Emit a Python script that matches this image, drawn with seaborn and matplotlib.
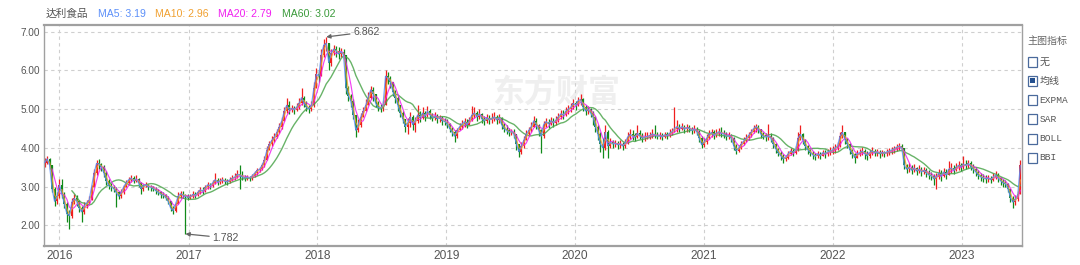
import numpy as np
import pandas as pd
import matplotlib
matplotlib.use("Agg")
import matplotlib.pyplot as plt
import matplotlib.dates as mdates
from matplotlib import font_manager
from matplotlib.patches import Rectangle
import seaborn as sns

# ---------------- data (weekly candles) ----------------
stock_name = "达利食品"
start_date = "2015-11-20"
first_open = 3.55

close_2015 = [3.62, 3.72, 3.55, 2.95, 2.62, 2.75]
high_2015 = [3.75, 3.80, 3.75, 3.55, 3.00, 2.85]
low_2015 = [3.50, 3.58, 3.45, 2.85, 2.50, 2.55]

close_2016 = [3.05, 2.80, 2.55, 2.30, 2.25, 2.60, 2.70, 2.62, 2.45, 2.35,
              2.50, 2.58, 2.65, 3.00, 3.35, 3.60, 3.58, 3.50, 3.35, 3.15,
              3.02, 3.00, 2.95, 2.85, 2.75, 2.85, 3.00, 3.10, 3.18, 3.22,
              3.15, 3.20, 3.10, 2.95, 3.02, 3.05, 3.00, 2.98, 2.95, 2.90,
              2.85, 2.80, 2.78, 2.72, 2.62, 2.45, 2.38, 2.55, 2.75, 2.82,
              2.78, 2.75, 2.72]
high_2016 = [3.20, 3.20, 2.85, 2.60, 2.40, 2.70, 2.80, 2.78, 2.65, 2.50,
             2.60, 2.65, 2.75, 3.05, 3.45, 3.70, 3.72, 3.62, 3.55, 3.40,
             3.20, 3.10, 3.05, 3.00, 2.90, 2.95, 3.05, 3.18, 3.25, 3.30,
             3.28, 3.30, 3.22, 3.12, 3.08, 3.12, 3.08, 3.05, 3.02, 2.98,
             2.95, 2.90, 2.85, 2.82, 2.75, 2.62, 2.50, 2.60, 2.85, 2.90,
             2.88, 2.82, 2.80]
low_2016 = [2.70, 2.70, 2.45, 2.10, 1.90, 2.20, 2.55, 2.50, 2.35, 2.10,
            2.30, 2.45, 2.55, 2.65, 3.00, 3.30, 3.45, 3.40, 3.25, 3.05,
            2.95, 2.90, 2.85, 2.48, 2.68, 2.72, 2.80, 2.98, 3.05, 3.12,
            3.10, 3.12, 3.00, 2.80, 2.90, 2.98, 2.92, 2.90, 2.88, 2.82,
            2.78, 2.72, 2.70, 2.65, 2.55, 2.38, 2.30, 2.35, 2.55, 2.70,
            2.70, 1.782, 2.65]

close_2017 = [2.75, 2.80, 2.78, 2.85, 2.92, 2.88, 2.98, 3.05, 3.02, 3.10,
              3.18, 3.12, 3.15, 3.18, 3.14, 3.12, 3.18, 3.22, 3.25, 3.32,
              3.30, 3.25, 3.22, 3.25, 3.22, 3.28, 3.35, 3.42, 3.45, 3.55,
              3.70, 3.95, 4.10, 4.20, 4.28, 4.40, 4.55, 4.70, 4.95, 5.10,
              4.98, 5.02, 4.98, 5.05, 5.15, 5.30, 5.15, 5.05, 5.00, 5.10,
              5.55, 5.90]
high_2017 = [2.82, 2.88, 2.85, 2.92, 3.00, 2.98, 3.05, 3.12, 3.10, 3.18,
             3.35, 3.22, 3.22, 3.25, 3.22, 3.20, 3.25, 3.30, 3.35, 3.42,
             3.56, 3.40, 3.30, 3.30, 3.28, 3.32, 3.40, 3.48, 3.52, 3.62,
             3.78, 4.05, 4.18, 4.30, 4.38, 4.50, 4.65, 4.80, 5.05, 5.30,
             5.20, 5.10, 5.08, 5.15, 5.30, 5.55, 5.35, 5.20, 5.10, 5.20,
             5.70, 6.05]
low_2017 = [2.68, 2.72, 2.70, 2.75, 2.82, 2.80, 2.85, 2.95, 2.95, 3.00,
            3.08, 3.05, 3.08, 3.10, 3.06, 3.05, 3.10, 3.15, 3.18, 3.22,
            2.95, 3.18, 3.15, 3.18, 3.15, 3.18, 3.25, 3.30, 3.38, 3.42,
            3.52, 3.70, 3.95, 4.05, 4.15, 4.25, 4.38, 4.50, 4.70, 4.90,
            4.88, 4.92, 4.88, 4.95, 5.00, 5.10, 5.05, 4.95, 4.90, 4.95,
            5.05, 5.55]

close_2018 = [5.85, 6.40, 6.65, 6.70, 6.20, 6.45, 6.55, 6.50, 6.42, 6.48,
              6.40, 5.55, 5.35, 5.20, 4.85, 4.45, 4.60, 4.80, 4.95, 5.10,
              5.30, 5.50, 5.40, 5.15, 5.05, 5.02, 5.10, 5.85, 5.80, 5.70,
              5.45, 5.30, 5.10, 4.90, 4.75, 4.55, 4.65, 4.80, 4.60, 4.70,
              4.85, 4.78, 4.90, 4.82, 4.95, 4.85, 4.78, 4.82, 4.75, 4.78,
              4.70, 4.68]
high_2018 = [6.00, 6.55, 6.80, 6.862, 6.70, 6.55, 6.65, 6.62, 6.60, 6.58,
             6.55, 6.40, 5.60, 5.40, 5.25, 4.85, 4.75, 4.90, 5.05, 5.25,
             5.45, 5.60, 5.58, 5.40, 5.20, 5.12, 5.20, 6.02, 5.95, 5.85,
             5.70, 5.50, 5.35, 5.10, 4.95, 4.75, 4.78, 4.92, 4.85, 4.80,
             5.10, 4.95, 5.05, 4.95, 5.08, 5.00, 4.90, 4.92, 4.88, 4.85,
             4.82, 4.78]
low_2018 = [5.70, 5.85, 6.35, 6.50, 6.00, 6.10, 6.40, 6.35, 6.30, 6.35,
            6.30, 5.40, 5.20, 5.05, 4.75, 4.28, 4.40, 4.55, 4.80, 4.95,
            5.10, 5.25, 5.20, 5.05, 4.95, 4.92, 4.95, 5.10, 5.65, 5.55,
            5.35, 5.15, 4.95, 4.80, 4.65, 4.40, 4.35, 4.55, 4.45, 4.40,
            4.65, 4.68, 4.75, 4.70, 4.80, 4.75, 4.70, 4.72, 4.65, 4.68,
            4.60, 4.58]

close_2019 = [4.62, 4.50, 4.40, 4.30, 4.45, 4.55, 4.62, 4.68, 4.60, 4.72,
              4.85, 4.90, 4.80, 4.88, 4.75, 4.70, 4.78, 4.72, 4.75, 4.80,
              4.72, 4.78, 4.60, 4.50, 4.45, 4.40, 4.42, 4.35, 4.10, 3.90,
              4.05, 4.20, 4.35, 4.45, 4.55, 4.70, 4.60, 4.45, 4.30, 4.60,
              4.68, 4.62, 4.70, 4.65, 4.72, 4.80, 4.88, 4.85, 4.95, 5.00,
              5.05, 5.15]
high_2019 = [4.75, 4.65, 4.55, 4.45, 4.52, 4.65, 4.72, 4.78, 4.75, 4.80,
             5.08, 5.05, 4.95, 5.00, 4.90, 4.82, 4.88, 4.85, 4.90, 4.92,
             4.85, 4.88, 4.80, 4.65, 4.58, 4.52, 4.50, 4.48, 4.35, 4.10,
             4.15, 4.30, 4.45, 4.55, 4.68, 4.82, 4.78, 4.62, 4.50, 4.70,
             4.78, 4.75, 4.80, 4.78, 4.82, 4.90, 4.98, 4.98, 5.05, 5.10,
             5.15, 5.25]
low_2019 = [4.52, 4.40, 4.30, 4.15, 4.25, 4.45, 4.50, 4.55, 4.52, 4.58,
            4.70, 4.78, 4.70, 4.75, 4.65, 4.60, 4.65, 4.62, 4.65, 4.70,
            4.62, 4.65, 4.50, 4.40, 4.35, 4.30, 4.32, 4.25, 3.95, 3.77,
            3.85, 4.00, 4.20, 4.30, 4.40, 4.55, 4.50, 4.30, 3.88, 4.25,
            4.55, 4.52, 4.58, 4.55, 4.60, 4.68, 4.75, 4.75, 4.82, 4.88,
            4.92, 5.00]

close_2020 = [5.10, 5.22, 5.25, 5.05, 4.95, 5.00, 4.90, 4.80, 4.55, 4.35,
              4.10, 4.00, 4.40, 4.05, 4.15, 4.10, 4.12, 4.08, 4.10, 4.05,
              4.12, 4.28, 4.35, 4.30, 4.28, 4.38, 4.30, 4.25, 4.28, 4.30,
              4.32, 4.36, 4.34, 4.30, 4.32, 4.28, 4.34, 4.32, 4.38, 4.42,
              4.50, 4.55, 4.50, 4.55, 4.48, 4.52, 4.50, 4.45, 4.48, 4.42,
              4.25, 4.08]
high_2020 = [5.22, 5.32, 5.40, 5.28, 5.10, 5.08, 5.02, 4.95, 4.82, 4.60,
             4.40, 4.25, 4.60, 4.45, 4.25, 4.20, 4.20, 4.18, 4.20, 4.15,
             4.22, 4.40, 4.48, 4.45, 4.38, 4.58, 4.45, 4.38, 4.40, 4.40,
             4.42, 4.50, 4.60, 4.40, 4.42, 4.38, 4.42, 4.42, 4.48, 4.52,
             5.05, 4.72, 4.62, 4.65, 4.60, 4.62, 4.60, 4.55, 4.58, 4.55,
             4.45, 4.30]
low_2020 = [4.98, 5.08, 5.10, 4.95, 4.85, 4.88, 4.80, 4.60, 4.40, 4.20,
            3.90, 3.75, 3.95, 3.75, 4.00, 4.00, 4.02, 3.98, 4.00, 3.95,
            4.00, 4.10, 4.22, 4.20, 4.18, 4.25, 4.22, 4.15, 4.18, 4.22,
            4.22, 4.25, 4.25, 4.22, 4.22, 4.20, 4.25, 4.22, 4.28, 4.32,
            4.40, 4.42, 4.40, 4.45, 4.38, 4.42, 4.40, 4.35, 4.38, 4.32,
            4.15, 4.00]

close_2021 = [4.15, 4.25, 4.35, 4.40, 4.32, 4.38, 4.42, 4.38, 4.35, 4.30,
              4.32, 4.25, 4.05, 3.92, 4.00, 4.10, 4.18, 4.25, 4.32, 4.40,
              4.50, 4.55, 4.48, 4.35, 4.30, 4.28, 4.30, 4.25, 4.10, 3.98,
              3.88, 3.80, 3.72, 3.75, 3.85, 3.92, 3.88, 3.95, 4.25, 4.35,
              4.20, 4.05, 3.95, 3.88, 3.82, 3.78, 3.85, 3.80, 3.88, 3.85,
              3.90, 3.92, 3.95]
high_2021 = [4.25, 4.35, 4.45, 4.50, 4.45, 4.48, 4.52, 4.55, 4.45, 4.42,
             4.40, 4.35, 4.28, 4.10, 4.08, 4.18, 4.28, 4.35, 4.42, 4.50,
             4.60, 4.62, 4.58, 4.48, 4.40, 4.38, 4.62, 4.38, 4.28, 4.12,
             4.00, 3.92, 3.85, 3.82, 3.92, 4.00, 3.98, 4.05, 4.40, 4.60,
             4.38, 4.22, 4.08, 3.98, 3.92, 3.88, 3.92, 3.90, 3.95, 3.95,
             3.98, 4.02, 4.05]
low_2021 = [4.02, 4.10, 4.22, 4.28, 4.22, 4.28, 4.30, 4.28, 4.25, 4.20,
            4.22, 4.15, 3.95, 3.85, 3.90, 3.98, 4.08, 4.15, 4.20, 4.28,
            4.38, 4.42, 4.38, 4.25, 4.22, 4.18, 4.20, 4.15, 4.00, 3.88,
            3.78, 3.70, 3.62, 3.65, 3.72, 3.82, 3.80, 3.85, 3.92, 4.20,
            4.10, 3.95, 3.85, 3.78, 3.72, 3.70, 3.75, 3.72, 3.78, 3.75,
            3.80, 3.82, 3.85]

close_2022 = [4.00, 4.05, 4.30, 4.40, 4.22, 4.10, 3.95, 3.85, 3.75, 3.85,
              3.88, 3.92, 3.85, 3.80, 3.88, 3.92, 3.88, 3.90, 3.85, 3.88,
              3.86, 3.90, 3.92, 3.95, 3.98, 4.02, 4.05, 4.00, 3.55, 3.45,
              3.50, 3.42, 3.48, 3.40, 3.45, 3.38, 3.42, 3.35, 3.30, 3.28,
              3.20, 3.25, 3.35, 3.28, 3.38, 3.30, 3.45, 3.48, 3.42, 3.50,
              3.55, 3.52]
high_2022 = [4.10, 4.15, 4.40, 4.58, 4.42, 4.25, 4.12, 3.98, 3.88, 3.95,
             3.98, 4.02, 3.98, 3.92, 3.95, 4.02, 3.98, 3.98, 3.95, 3.95,
             3.92, 3.98, 4.00, 4.02, 4.05, 4.10, 4.12, 4.10, 4.00, 3.58,
             3.60, 3.55, 3.58, 3.52, 3.55, 3.50, 3.52, 3.48, 3.42, 3.38,
             3.32, 3.35, 3.45, 3.42, 3.48, 3.45, 3.65, 3.62, 3.55, 3.60,
             3.65, 3.62]
low_2022 = [3.88, 3.95, 4.02, 4.25, 4.10, 4.00, 3.85, 3.75, 3.62, 3.75,
            3.78, 3.82, 3.72, 3.68, 3.75, 3.82, 3.78, 3.80, 3.75, 3.78,
            3.76, 3.80, 3.82, 3.85, 3.88, 3.92, 3.95, 3.92, 3.45, 3.35,
            3.38, 3.32, 3.38, 3.30, 3.35, 3.28, 3.32, 3.25, 3.20, 3.18,
            3.05, 2.95, 3.20, 3.15, 3.25, 3.20, 3.30, 3.35, 3.32, 3.40,
            3.42, 3.40]

close_2023 = [3.58, 3.55, 3.60, 3.52, 3.45, 3.38, 3.30, 3.25, 3.22, 3.20,
              3.22, 3.18, 3.25, 3.30, 3.22, 3.15, 3.10, 3.08, 2.95, 2.72,
              2.60, 2.68, 2.80, 3.55]
high_2023 = [3.80, 3.68, 3.70, 3.65, 3.58, 3.50, 3.42, 3.35, 3.32, 3.30,
             3.30, 3.28, 3.35, 3.40, 3.35, 3.25, 3.20, 3.18, 3.10, 2.95,
             2.75, 2.78, 2.88, 3.70]
low_2023 = [3.45, 3.45, 3.48, 3.42, 3.35, 3.28, 3.20, 3.15, 3.12, 3.10,
            3.12, 3.10, 3.15, 3.20, 3.12, 3.05, 3.00, 2.98, 2.85, 2.60,
            2.45, 2.52, 2.62, 2.80]

ma_labels = ["MA5: 3.19", "MA10: 2.96", "MA20: 2.79", "MA60: 3.02"]
ma_windows_weeks = [1, 2, 4, 12]          # 5/10/20/60 trading days on weekly bars
year_ticks = [2016, 2017, 2018, 2019, 2020, 2021, 2022, 2023]
y_ticks = [2.0, 3.0, 4.0, 5.0, 6.0, 7.0]
indicator_title = "主图指标"
indicator_options = ["无", "均线", "EXPMA", "SAR", "BOLL", "BBI"]
indicator_selected = "均线"
watermark = "东方财富"

# ---------------- assemble ----------------
closes = np.array(close_2015 + close_2016 + close_2017 + close_2018 + close_2019 +
                  close_2020 + close_2021 + close_2022 + close_2023)
highs = np.array(high_2015 + high_2016 + high_2017 + high_2018 + high_2019 +
                 high_2020 + high_2021 + high_2022 + high_2023)
lows = np.array(low_2015 + low_2016 + low_2017 + low_2018 + low_2019 +
                low_2020 + low_2021 + low_2022 + low_2023)
opens = np.concatenate([[first_open], closes[:-1]])
highs = np.maximum(highs, np.maximum(opens, closes))
lows = np.minimum(lows, np.minimum(opens, closes))
dates = pd.date_range(start_date, periods=len(closes), freq="W-FRI")
df = pd.DataFrame({"date": dates, "open": opens, "high": highs,
                   "low": lows, "close": closes})
for w, lab in zip(ma_windows_weeks, ["MA5", "MA10", "MA20", "MA60"]):
    df[lab] = df["close"].rolling(w).mean()

# ---------------- style ----------------
sns.set_style("white")
names = {f.name for f in font_manager.fontManager.ttflist}


def pick(*cands):
    for c in cands:
        if c in names:
            return c
    return "DejaVu Sans"


SANS = pick("Liberation Sans", "Arial", "DejaVu Sans")
NARROW = pick("Liberation Sans Narrow", "Liberation Sans", "DejaVu Sans")
CJK = pick("Noto Sans CJK SC", "Noto Sans CJK JP", "DejaVu Sans")
MONO = pick("Liberation Mono", "DejaVu Sans Mono")
plt.rcParams["font.family"] = [SANS, CJK, "DejaVu Sans"]

UP = "#f01e1e"
DOWN = "#118a1a"
MA_COLORS = {"MA5": "#5b8ff9", "MA10": "#f0a030", "MA20": "#f020f0", "MA60": "#4ea64e"}
GRID = "#cfcfcf"
FRAME = "#a0a0a0"
TXT = "#555555"

W, H = 1080, 265
fig = plt.figure(figsize=(W / 100, H / 100), dpi=100)
fig.patch.set_facecolor("white")
L, R, T, B = 44.3, 1021.7, 25.0, 246.0
ax = fig.add_axes([L / W, 1 - B / H, (R - L) / W, (B - T) / H])
ax.set_facecolor("white")

# watermark
ax.text(556 / W, 1 - 93 / H, watermark, transform=fig.transFigure, fontsize=23,
        family=[CJK], color="#efefef", fontweight="bold", ha="center", va="center",
        zorder=0)

# candles
up = df["close"] >= df["open"]
colors = np.where(up, UP, DOWN)
ax.vlines(df["date"], df["low"], df["high"], colors=colors, linewidth=0.9, zorder=2)
body = (df["close"] - df["open"]).to_numpy()
body = np.where(np.abs(body) < 0.02, 0.02, body)
ax.bar(df["date"], body, bottom=df["open"], width=5.6, color=colors,
       linewidth=0, zorder=2)

# moving averages
for lab in ["MA60", "MA20", "MA10", "MA5"]:
    sns.lineplot(data=df, x="date", y=lab, ax=ax, color=MA_COLORS[lab],
                 linewidth=0.85 if lab != "MA60" else 1.0,
                 alpha=0.85, zorder=3, legend=False)

# axes ranges / grid
ax.set_ylim(1.47, 7.17)
ax.set_xlim(df["date"].iloc[0] - pd.Timedelta(days=1),
            df["date"].iloc[-1] + pd.Timedelta(days=4))
ax.set_yticks(y_ticks)
ax.set_yticklabels([f"{v:.2f}" for v in y_ticks], fontsize=7.2, color=TXT, family=[SANS])
xt = [pd.Timestamp(f"{y}-01-01") for y in year_ticks]
ax.set_xticks(xt)
ax.set_xticklabels([str(y) for y in year_ticks], fontsize=8.6, color=TXT, family=[NARROW])
ax.tick_params(axis="both", length=0)
ax.tick_params(axis="y", pad=3)
ax.tick_params(axis="x", pad=3)
ax.grid(True, color=GRID, linestyle=(0, (3, 3)), linewidth=0.8)
ax.set_axisbelow(True)
ax.set_xlabel("")
ax.set_ylabel("")
for side, sp in ax.spines.items():
    sp.set_visible(True)
    sp.set_color(FRAME)
    sp.set_linewidth(1.6 if side in ("top", "bottom") else 1.0)

# annotations of extreme values
i_hi = int(np.argmax(df["high"].to_numpy()))
i_lo = int(np.argmin(df["low"].to_numpy()))
arrow = dict(arrowstyle="-|>", color="#666666", lw=0.9, shrinkA=0, shrinkB=0,
             mutation_scale=6)
ax.annotate(f"{df['high'].iloc[i_hi]:.3f}", xy=(df["date"].iloc[i_hi], df["high"].iloc[i_hi]),
            xytext=(27, 5), textcoords="offset pixels", fontsize=7.6, color=TXT,
            family=[SANS], ha="left", va="center", arrowprops=arrow, zorder=5)
ax.annotate(f"{df['low'].iloc[i_lo]:.3f}", xy=(df["date"].iloc[i_lo], df["low"].iloc[i_lo]),
            xytext=(27, -4), textcoords="offset pixels", fontsize=7.6, color=TXT,
            family=[SANS], ha="left", va="center", arrowprops=arrow, zorder=5)

# title row
fig.text(45.5 / W, 1 - 14 / H, stock_name, fontsize=7.7, color=TXT, family=[CJK],
         ha="left", va="center")
title_x = [97.7, 155.0, 218.5, 282.0]
for x, lab, key in zip(title_x, ma_labels, ["MA5", "MA10", "MA20", "MA60"]):
    c = MA_COLORS[key] if key != "MA60" else "#3a9a3a"
    fig.text(x / W, 1 - 14 / H, lab, fontsize=7.6, color=c, family=[SANS],
             ha="left", va="center")

# right indicator panel
fig.text(1027.7 / W, 1 - 41 / H, indicator_title, fontsize=7.2, color="#666666",
         family=[CJK], ha="left", va="center")
box_top = 56.7
for k, opt in enumerate(indicator_options):
    y0 = box_top + k * 19.25
    fig.patches.append(Rectangle((1027.7 / W, 1 - (y0 + 10) / H), 9.6 / W, 10 / H,
                                 transform=fig.transFigure, facecolor="white",
                                 edgecolor="#4a6a9c", linewidth=0.9))
    if opt == indicator_selected:
        fig.patches.append(Rectangle((1030.2 / W, 1 - (y0 + 7.5) / H), 4.6 / W, 5 / H,
                                     transform=fig.transFigure, facecolor="#24508f",
                                     edgecolor="none"))
    is_cjk = any(ord(ch) > 0x2000 for ch in opt)
    fig.text(1039.3 / W, 1 - (y0 + 5) / H, opt,
             fontsize=7.2 if is_cjk else 6.8, color="#555555",
             family=[CJK] if is_cjk else [MONO], ha="left", va="center")

fig.savefig("out.png", dpi=100, facecolor="white")
